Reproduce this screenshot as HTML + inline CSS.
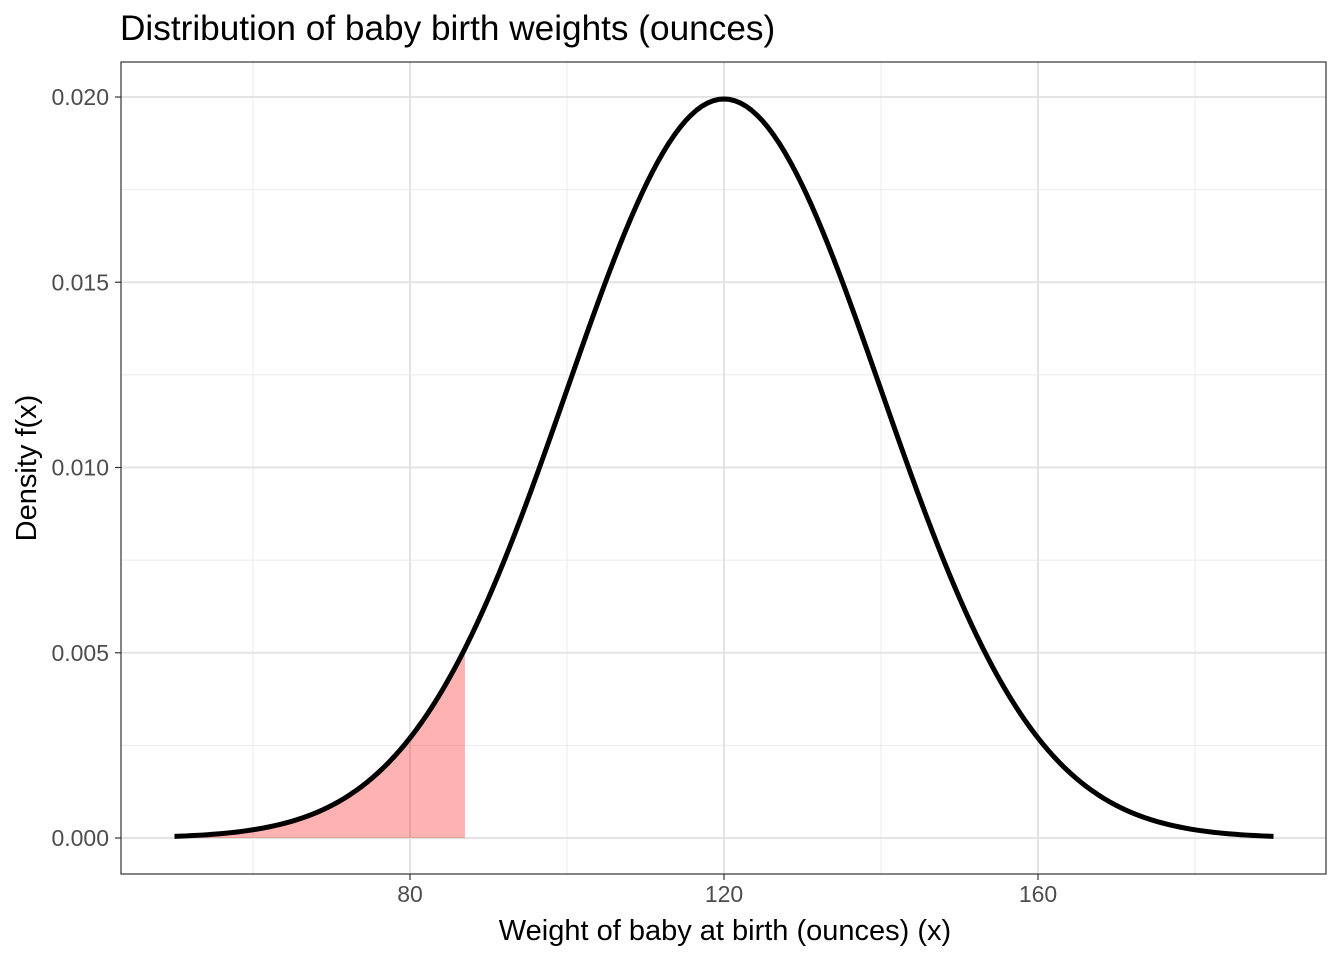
<!DOCTYPE html>
<html><head><meta charset="utf-8"><style>
body{margin:0;background:#fff;}
svg{display:block;font-family:"Liberation Sans",Arial,sans-serif;}
</style></head><body>
<svg id="chart" width="1344" height="960">
<text x="120" y="40" font-size="35.2" fill="#000">Distribution of baby birth weights (ounces)</text>
<g id="grid"></g>
<g id="shade"></g>
<g id="curve"></g>
<rect x="121" y="62" width="1205" height="812" fill="none" stroke="#333" stroke-width="1.2"/>
<g id="axes"></g>
<text x="725" y="940" font-size="29" text-anchor="middle" fill="#000">Weight of baby at birth (ounces) (x)</text>
<text transform="translate(36,468) rotate(-90)" font-size="29" text-anchor="middle" fill="#000">Density f(x)</text>
</svg>
<script>
const distMean = [120];
const distSd = [20];
const xRange = [50, 190];
const shadeUpper = [87];
const xTicks = [80, 120, 160];
const xMinor = [60, 100, 140, 180];
const yTicks = [0, 0.005, 0.010, 0.015, 0.020];
const yTickLabels = ["0.000", "0.005", "0.010", "0.015", "0.020"];
const yMinor = [0.0025, 0.0075, 0.0125, 0.0175];

const NS = "http://www.w3.org/2000/svg";
const sx = v => 410 + (v - 80) * (314 / 40);
const sy = v => 838 - v * (741 / 0.02);
const L = 121, R = 1326, T = 62, B = 874;
function mk(tag, attrs, parent) {
  const e = document.createElementNS(NS, tag);
  for (const k in attrs) e.setAttribute(k, attrs[k]);
  parent.appendChild(e); return e;
}
const grid = document.getElementById("grid"), axes = document.getElementById("axes");
xMinor.forEach(v => { const l = mk("line", {x1: sx(v), x2: sx(v), y1: T, y2: B, stroke: "#ebebeb", "stroke-width": 1}, grid);
  
   });
yMinor.forEach(v => { const l = mk("line", {x1: L, x2: R, y1: sy(v), y2: sy(v), stroke: "#ebebeb", "stroke-width": 1}, grid);
  
   });
xTicks.forEach(v => {
  const l = mk("line", {x1: sx(v), x2: sx(v), y1: T, y2: B, stroke: "#e3e3e3", "stroke-width": 2}, grid);
  
  
  const t = mk("line", {x1: sx(v), x2: sx(v), y1: B, y2: B + 6, stroke: "#333", "stroke-width": 1.2}, axes);
  
  
  const tx = mk("text", {x: sx(v), y: B + 28, "font-size": 23, "text-anchor": "middle", fill: "#4d4d4d"}, axes);
  tx.textContent = v;
  
  
});
yTicks.forEach((v, i) => {
  const l = mk("line", {x1: L, x2: R, y1: sy(v), y2: sy(v), stroke: "#e3e3e3", "stroke-width": 2}, grid);
  
  
  const t = mk("line", {x1: L - 6, x2: L, y1: sy(v), y2: sy(v), stroke: "#333", "stroke-width": 1.2}, axes);
  
  
  const tx = mk("text", {x: L - 12, y: sy(v) + 8, "font-size": 23, "text-anchor": "end", fill: "#4d4d4d"}, axes);
  tx.textContent = yTickLabels[i];
  
  
});
const dens = x => Math.exp(-0.5 * ((x - distMean[0]) / distSd[0]) ** 2) / (distSd[0] * Math.sqrt(2 * Math.PI));
const n = 200;
let pts = [];
for (let i = 0; i <= n; i++) { const x = xRange[0] + (xRange[1] - xRange[0]) * i / n; pts.push([sx(x), sy(dens(x))]); }
let sp = [[sx(xRange[0]), sy(0)]];
for (let i = 0; i <= 100; i++) { const x = xRange[0] + (shadeUpper[0] - xRange[0]) * i / 100; sp.push([sx(x), sy(dens(x))]); }
sp.push([sx(shadeUpper[0]), sy(0)]);
const area = mk("polygon", {points: sp.map(p => p.join(",")).join(" "), fill: "#ff0000", "fill-opacity": 0.3}, document.getElementById("shade"));


const line = mk("polyline", {points: pts.map(p => p.join(",")).join(" "), fill: "none", stroke: "#000", "stroke-width": 5, "stroke-linejoin": "round"}, document.getElementById("curve"));


</script>
</body></html>
